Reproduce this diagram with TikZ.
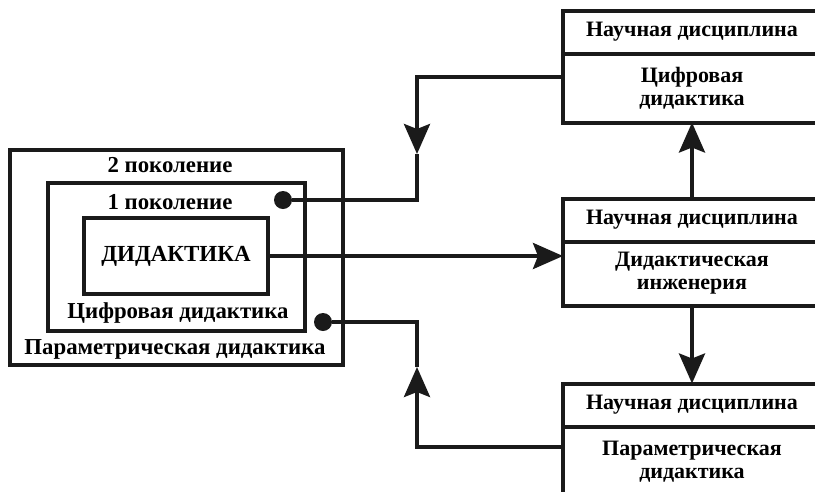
\documentclass[tikz,border=0pt]{standalone}
\usepackage{fontspec}
\setmainfont{Liberation Serif}
\usetikzlibrary{arrows.meta,positioning,calc}
\definecolor{ink}{HTML}{1A1A1A}
\tikzset{
  framebox/.style={draw=ink,line width=4pt,inner sep=0pt,outer sep=0pt},
  headbox/.style={draw=ink,line width=4pt,inner sep=0pt,outer sep=0pt,
                  minimum width=258pt,minimum height=43pt,
                  font=\fontsize{22}{23}\selectfont\bfseries},
  bodybox/.style={draw=ink,line width=4pt,inner sep=0pt,outer sep=0pt,
                  minimum width=258pt,align=center,
                  font=\fontsize{22}{23}\selectfont\bfseries},
  caption/.style={inner sep=0pt,font=\fontsize{22.8}{24}\selectfont\bfseries},
  dotnode/.style={circle,fill=ink,minimum size=18pt,inner sep=0pt,outer sep=0pt},
  flowarr/.style={-{Stealth[length=30pt,width=26pt,inset=5pt]},line width=4pt,draw=ink},
  joinline/.style={line width=4pt,draw=ink}
}

\begin{document}
\begin{tikzpicture}[x=1pt,y=-1pt]
  \clip (0,0) rectangle (815,491);
  % ---- nested generations ----
  \node[framebox,minimum width=333pt,minimum height=215pt] (gen2) at (176.5,257.5) {};
  \node[framebox,minimum width=257pt,minimum height=148pt] (gen1) at (176.5,257) {};
  \node[framebox,minimum width=184pt,minimum height=76pt,
        font=\fontsize{23}{25}\selectfont\bfseries] (did) at (176,256) {ДИДАКТИКА};
  \node[caption] (gen2top) at (170,165) {2 поколение};
  \node[caption] (gen1top) at (170,202) {1 поколение};
  \node[caption] (gen1bot) at (178,313) {Цифровая дидактика};
  \node[caption] (gen2bot) at (175,349) {Параметрическая дидактика};
  % ---- scientific disciplines ----
  \node[headbox] (tophead) at (692,32) {Научная дисциплина};
  \node[bodybox,minimum height=69pt,below=0pt of tophead] (topbody) {Цифровая\\дидактика};
  \node[headbox] (midhead) at (692,220) {Научная дисциплина};
  \node[bodybox,minimum height=64pt,below=0pt of midhead] (midbody) {Дидактическая\\инженерия};
  \node[headbox] (bothead) at (692,405) {Научная дисциплина};
  \node[bodybox,minimum height=70pt,below=0pt of bothead] (botbody) {Параметрическая\\дидактика};
  % ---- links ----
  \node[dotnode] (dot1) at (283,200) {};
  \node[dotnode] (dot2) at (323,322) {};
  \draw[flowarr] (midhead.north) -- (topbody.south);
  \draw[flowarr] (midbody.south) -- (bothead.north);
  \draw[flowarr] (did.east) -- (did.east -| midbody.west);
  \coordinate (upbend) at (417,77);
  \coordinate (uptip) at (417,154);
  \draw[flowarr] (upbend -| topbody.west) -- (upbend) -- (uptip);
  \draw[joinline] (uptip) -- (uptip |- dot1) -- (dot1);
  \coordinate (lowbend) at (417,447);
  \coordinate (lowtip) at (417,367);
  \draw[flowarr] (lowbend -| botbody.west) -- (lowbend) -- (lowtip);
  \draw[joinline] (lowtip) -- (lowtip |- dot2) -- (dot2);
\end{tikzpicture}
\end{document}
